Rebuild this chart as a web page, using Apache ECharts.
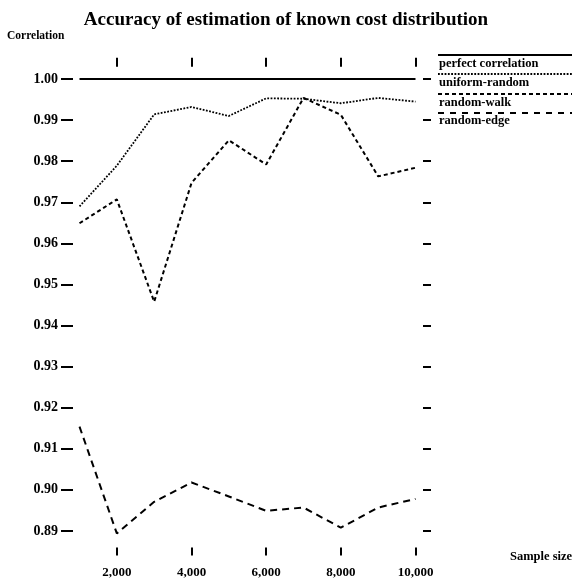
<!DOCTYPE html>
<html>
<head>
<meta charset="utf-8">
<script src="https://cdn.jsdelivr.net/npm/echarts@6/dist/echarts.min.js"></script>
<style>
  html, body { margin: 0; background: #fff; }
  #chart { width: 572px; height: 580px; }
</style>
</head>
<body>
<div id="chart"></div>
<script>
// sample sizes on the x axis
const sampleSizes = [1000, 2000, 3000, 4000, 5000, 6000, 7000, 8000, 9000, 10000];

// correlation values
const perfectCorrelation = [1, 1, 1, 1, 1, 1, 1, 1, 1, 1];
const uniformRandom = [0.9690, 0.9789, 0.9914, 0.9932, 0.9910, 0.9953, 0.9952, 0.9941, 0.9954, 0.9945];
const randomWalk = [0.9649, 0.9707, 0.9458, 0.9747, 0.9851, 0.9792, 0.9954, 0.9913, 0.9763, 0.9784];
const randomEdge = [0.9154, 0.8894, 0.8971, 0.9018, 0.8984, 0.8949, 0.8957, 0.8908, 0.8957, 0.8978];

// tick positions
const xTicks = [2000, 4000, 6000, 8000, 10000];
const yTicks = [0.89, 0.90, 0.91, 0.92, 0.93, 0.94, 0.95, 0.96, 0.97, 0.98, 0.99, 1.00];

const serif = "'Liberation Serif', 'DejaVu Serif', serif";

const styles = {
  "perfect correlation": { type: "solid", width: 2 },
  "uniform-random": { type: [1.8, 1.5], width: 1.8 },
  "random-walk": { type: [4, 3], width: 2 },
  "random-edge": { type: [7, 5], width: 2 }
};

const chart = echarts.init(document.getElementById("chart"));

function mkSeries(name, data) {
  return {
    name: name,
    type: "line",
    symbol: "none",
    data: sampleSizes.map((x, i) => [x, data[i]]),
    lineStyle: { color: "#000", width: styles[name].width, type: styles[name].type },
    z: 3
  };
}

function legendItem(name, lineY, textY, dash, width) {
  return [
    {
      type: "line",
      shape: { x1: 438, y1: lineY, x2: 572, y2: lineY },
      style: { stroke: "#000", lineWidth: width, lineDash: dash }
    },
    {
      type: "text",
      x: 439,
      y: textY,
      style: {
        text: name,
        fill: "#000",
        font: "bold 12.5px " + serif,
        verticalAlign: "middle"
      }
    }
  ];
}

const tickStyle = { color: "#000", width: 2 };
const labelStyle = { color: "#000", fontFamily: serif, fontWeight: "bold", fontSize: 13 };

const option = {
  backgroundColor: "#fff",
  animation: false,
  title: {
    text: "Accuracy of estimation of known cost distribution",
    left: "center",
    top: 6,
    textStyle: { fontFamily: serif, fontWeight: "bold", fontSize: 19, color: "#000" }
  },
  grid: { left: 79.5, right: 156.5, top: 66.7, bottom: 32.6 },
  xAxis: [
    {
      type: "value",
      position: "bottom",
      min: 1000,
      max: 10000,
      splitLine: { show: false },
      axisLine: { show: false },
      axisTick: { show: true, length: 8, lineStyle: tickStyle, customValues: xTicks },
      axisLabel: {
        customValues: xTicks,
        margin: 19,
        formatter: v => v.toLocaleString("en-US"),
        ...labelStyle
      }
    },
    {
      type: "value",
      position: "top",
      min: 1000,
      max: 10000,
      splitLine: { show: false },
      axisLine: { show: false },
      axisTick: { show: true, length: 9, lineStyle: tickStyle, customValues: xTicks },
      axisLabel: { show: false }
    }
  ],
  yAxis: [
    {
      type: "value",
      position: "left",
      min: 0.886,
      max: 1.003,
      offset: 6.5,
      splitLine: { show: false },
      axisLine: { show: false },
      axisTick: { show: true, length: 12, lineStyle: tickStyle, customValues: yTicks },
      axisLabel: {
        customValues: yTicks,
        margin: 15,
        formatter: v => v.toFixed(2),
        ...labelStyle,
        fontSize: 14
      }
    },
    {
      type: "value",
      position: "right",
      min: 0.886,
      max: 1.003,
      offset: 7.5,
      splitLine: { show: false },
      axisLine: { show: false },
      axisTick: { show: true, length: 8, lineStyle: tickStyle, customValues: yTicks },
      axisLabel: { show: false }
    }
  ],
  series: [
    mkSeries("perfect correlation", perfectCorrelation),
    mkSeries("uniform-random", uniformRandom),
    mkSeries("random-walk", randomWalk),
    mkSeries("random-edge", randomEdge)
  ],
  graphic: [
    {
      type: "text",
      x: 7,
      y: 36,
      style: { text: "Correlation", fill: "#000", font: "bold 11.5px " + serif, verticalAlign: "middle" }
    },
    {
      type: "text",
      x: 510,
      y: 557,
      style: { text: "Sample size", fill: "#000", font: "bold 12.5px " + serif, verticalAlign: "middle" }
    },
    ...legendItem("perfect correlation", 55, 64, null, 2),
    ...legendItem("uniform-random", 74, 83, [1.8, 1.5], 1.8),
    ...legendItem("random-walk", 94, 103, [4, 3], 2),
    ...legendItem("random-edge", 113, 121, [6, 6], 2)
  ]
};

chart.setOption(option);
</script>
</body>
</html>
